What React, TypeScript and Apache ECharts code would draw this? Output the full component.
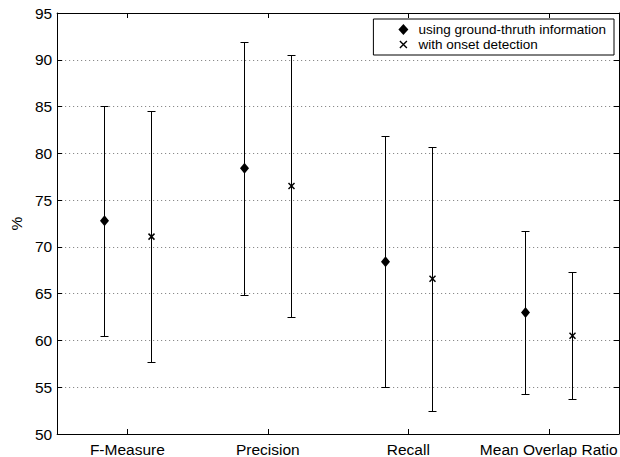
import React, { useEffect, useRef } from "react";
import * as echarts from "echarts";

// Categories and per-method statistics (mean with lower / upper error bounds, in %)
const categories = ["F-Measure", "Precision", "Recall", "Mean Overlap Ratio"];

const groundTruthMean = [72.8, 78.4, 68.4, 63.0];
const groundTruthLow = [60.5, 64.9, 55.0, 54.3];
const groundTruthHigh = [85.1, 91.9, 81.8, 71.7];

const onsetMean = [71.1, 76.5, 66.6, 60.5];
const onsetLow = [57.7, 62.5, 52.5, 53.7];
const onsetHigh = [84.5, 90.5, 80.7, 67.3];

const yTicks = [50, 55, 60, 65, 70, 75, 80, 85, 90, 95];

const SERIES_GT = "using ground-thruth information";
const SERIES_ON = "with onset detection";

const FONT = "Liberation Sans";

const svgIcon = (inner: string) =>
  "image://data:image/svg+xml;charset=utf-8," +
  encodeURIComponent(
    `<svg xmlns="http://www.w3.org/2000/svg" width="12" height="12" viewBox="0 0 12 12">${inner}</svg>`
  );

const diamondIcon = svgIcon('<polygon points="6,0.5 11,6 6,11.5 1,6" fill="#000"/>');
const crossIcon = svgIcon(
  '<path d="M2.5,2.5 L9.5,9.5 M9.5,2.5 L2.5,9.5" stroke="#000" stroke-width="1.4" fill="none"/>'
);

function buildData(mean: number[], low: number[], high: number[]) {
  return mean.map((m, i) => [i, m, low[i], high[i]]);
}

// Error bar with caps plus a centre marker, shifted a sixth of a band left or right
function makeRenderItem(side: number, marker: "diamond" | "cross") {
  return (_params: any, api: any) => {
    const idx = api.value(0);
    const band = api.size([1, 0])[0];
    const center = api.coord([idx, api.value(1)]);
    const lo = api.coord([idx, api.value(2)]);
    const hi = api.coord([idx, api.value(3)]);
    const x = Math.round(center[0] + (side * band) / 6) + 0.5;
    const y = center[1];
    const yLo = Math.round(lo[1]) + 0.5;
    const yHi = Math.round(hi[1]) + 0.5;
    const cap = 4;
    const stroke = { stroke: "#000", lineWidth: 1 };
    const children: any[] = [
      { type: "line", shape: { x1: x, y1: yHi, x2: x, y2: yLo }, style: stroke },
      { type: "line", shape: { x1: x - cap, y1: yHi, x2: x + cap, y2: yHi }, style: stroke },
      { type: "line", shape: { x1: x - cap, y1: yLo, x2: x + cap, y2: yLo }, style: stroke },
    ];
    if (marker === "diamond") {
      children.push({
        type: "polygon",
        shape: {
          points: [
            [x, y - 5.5],
            [x + 4.5, y],
            [x, y + 5.5],
            [x - 4.5, y],
          ],
        },
        style: { fill: "#000" },
      });
    } else {
      const s = 3;
      const xs = { stroke: "#000", lineWidth: 1.5 };
      children.push(
        { type: "line", shape: { x1: x - s, y1: y - s, x2: x + s, y2: y + s }, style: xs },
        { type: "line", shape: { x1: x - s, y1: y + s, x2: x + s, y2: y - s }, style: xs }
      );
    }
    return { type: "group", children };
  };
}

export default function App() {
  const ref = useRef<HTMLDivElement>(null);

  useEffect(() => {
    if (!ref.current) return;
    const chart = echarts.init(ref.current, null, { renderer: "svg" });

    const axisLine = { show: true, lineStyle: { color: "#000", width: 1 } };
    const inTick = { show: true, inside: true, length: 5, lineStyle: { color: "#000" } };

    chart.setOption({
      animation: false,
      backgroundColor: "#fff",
      textStyle: { fontFamily: FONT },
      grid: { left: 49, right: 1, top: 13, bottom: 22 },
      legend: {
        show: true,
        orient: "vertical",
        right: 6,
        top: 19,
        padding: [3, 8, 3, 20],
        itemWidth: 20,
        itemHeight: 12,
        itemGap: 0,
        backgroundColor: "#fff",
        borderColor: "#000",
        borderWidth: 1,
        borderRadius: 0,
        selectedMode: false,
        textStyle: { fontSize: 13.5, color: "#000", fontFamily: FONT, lineHeight: 15 },
        data: [
          { name: SERIES_GT, icon: diamondIcon },
          { name: SERIES_ON, icon: crossIcon },
        ],
      },
      xAxis: [
        {
          type: "category",
          position: "bottom",
          data: categories,
          boundaryGap: true,
          axisLine,
          axisTick: { ...inTick, alignWithLabel: true, interval: 0 },
          axisLabel: { fontSize: 15.5, color: "#000", margin: 7, fontFamily: FONT, interval: 0 },
          splitLine: { show: false },
        },
        {
          type: "category",
          position: "top",
          data: categories,
          boundaryGap: true,
          axisLine,
          axisTick: { ...inTick, alignWithLabel: true, interval: 0 },
          axisLabel: { show: false },
          splitLine: { show: false },
        },
      ],
      yAxis: [
        {
          type: "value",
          position: "left",
          min: yTicks[0],
          max: yTicks[yTicks.length - 1],
          interval: 5,
          name: "%",
          nameLocation: "middle",
          nameGap: 28,
          nameTextStyle: { fontSize: 15.5, color: "#000", fontFamily: FONT },
          axisLine,
          axisTick: inTick,
          axisLabel: { fontSize: 15.5, color: "#000", margin: 5, fontFamily: FONT },
          splitLine: {
            show: true,
            lineStyle: { color: "#777", width: 1, type: [1, 3] },
          },
        },
        {
          type: "value",
          position: "right",
          min: yTicks[0],
          max: yTicks[yTicks.length - 1],
          interval: 5,
          axisLine,
          axisTick: inTick,
          axisLabel: { show: false },
          splitLine: { show: false },
        },
      ],
      series: [
        {
          name: SERIES_GT,
          type: "custom",
          xAxisIndex: 0,
          yAxisIndex: 0,
          renderItem: makeRenderItem(-1, "diamond"),
          encode: { x: 0, y: [1, 2, 3] },
          data: buildData(groundTruthMean, groundTruthLow, groundTruthHigh),
          z: 5,
        },
        {
          name: SERIES_ON,
          type: "custom",
          xAxisIndex: 0,
          yAxisIndex: 0,
          renderItem: makeRenderItem(1, "cross"),
          encode: { x: 0, y: [1, 2, 3] },
          data: buildData(onsetMean, onsetLow, onsetHigh),
          z: 5,
        },
      ],
    });

    return () => chart.dispose();
  }, []);

  return (
    <div
      ref={ref}
      style={{ position: "absolute", left: 0, top: 0, width: 620, height: 457 }}
    />
  );
}
